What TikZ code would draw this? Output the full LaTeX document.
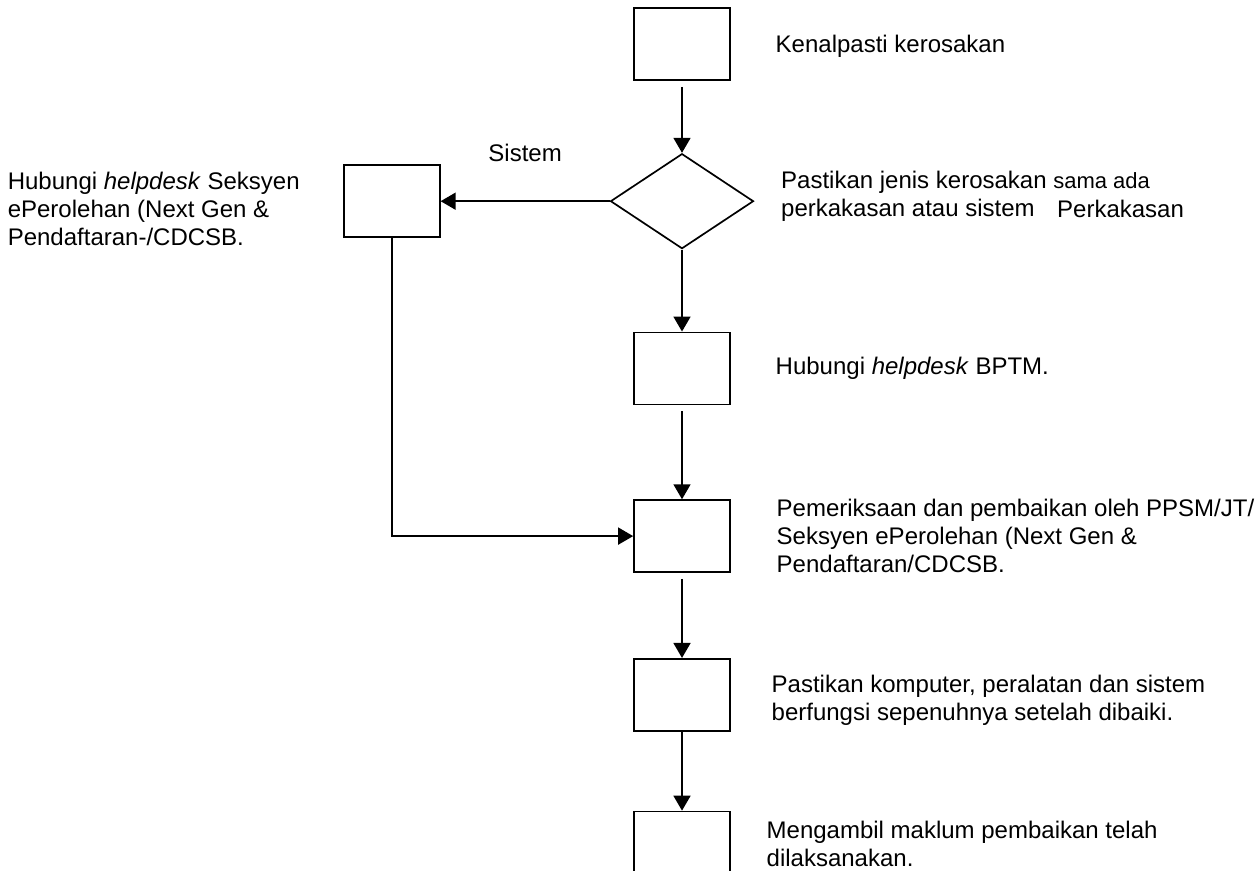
\documentclass[tikz,border=0pt]{standalone}
\usepackage{fontspec}
\setmainfont{Liberation Sans}
\usetikzlibrary{arrows.meta,positioning,shapes.geometric}
\tikzset{every picture/.style={
  >={Triangle[length=7.5pt,width=8.5pt]}   % Solid triangle arrow tips.
  }
}

\begin{document}
\begin{tikzpicture}[
    font=\fontsize{12}{14}\selectfont,
    line width=0.85pt,
    step box/.style={           % Boxes denoting the steps.
      rectangle,
      draw,
      minimum width=48pt,
      minimum height=36pt,
      inner sep=0pt
    },
    decision/.style={           % Box denoting the choice.
      diamond,
      draw,
      minimum width=71.5pt,
      minimum height=47.5pt,
      inner sep=0pt
    },
    lbl/.style={                % Styling of label text.
      align=left,
      inner sep=0pt
    },
    flow/.style={               % Connectors between the steps.
      ->,
      shorten <=3pt
    }]

    \useasboundingbox (0,0) rectangle (629pt,-435.5pt);
    \clip (0,0) rectangle (629pt,-435.5pt);

    % Depict the steps of the procedure.
    \node[step box] (kenal) at (341pt,-22pt) {};
    \node[decision] (jenis) [below=36pt of kenal] {};
    \node[step box] (bptm) [below=41pt of jenis] {};
    \node[step box] (periksa) [below=47pt of bptm] {};
    \node[step box] (pastikan) [below=42.5pt of periksa] {};
    \node[step box] (maklum) [below=39.5pt of pastikan] {};
    \node[step box] (sistem) [left=84.5pt of jenis] {};

    % Label the steps.
    \node[lbl] (lkenal) [right=22pt of kenal,yshift=-1.3pt] {Kenalpasti kerosakan};
    \node[lbl] (ljenis) [right=13pt of jenis,yshift=2.5pt]
      {Pastikan jenis kerosakan {\fontsize{11}{14}\selectfont sama ada}\\
       perkakasan atau sistem};
    \node[lbl,anchor=west] (lperkakasan) at ([xshift=151pt,yshift=-4pt] jenis.east)
      {Perkakasan};
    \node[lbl,anchor=west] (lsistem) at ([xshift=-168pt,yshift=-4pt] sistem.west)
      {Hubungi \textit{helpdesk} Seksyen\\
       ePerolehan (Next Gen \&\\
       Pendaftaran-/CDCSB.};
    \node[lbl] (lbptm) [right=22pt of bptm] {Hubungi \textit{helpdesk} BPTM.};
    \node[lbl] (lperiksa) [right=22.5pt of periksa]
      {Pemeriksaan dan pembaikan oleh PPSM/JT/\\
       Seksyen ePerolehan (Next Gen \&\\
       Pendaftaran/CDCSB.};
    \node[lbl] (lpastikan) [right=20pt of pastikan,yshift=-2.6pt]
      {Pastikan komputer, peralatan dan sistem\\
       berfungsi sepenuhnya setelah dibaiki.};
    \node[lbl] (lmaklum) [right=17.5pt of maklum,yshift=1.6pt]
      {Mengambil maklum pembaikan telah\\
       dilaksanakan.};

    % Draw the flow between the steps.
    \draw[flow] (kenal) -- (jenis);
    \draw[->] (jenis) -- (sistem)
      node[lbl,midway,above=19.5pt] (lsis) {Sistem};
    \draw[->] (jenis) -- (bptm);
    \draw[flow] (bptm) -- (periksa);
    \draw[->] (sistem.south) |- (periksa.west);
    \draw[flow] (periksa) -- (pastikan);
    \draw[->] (pastikan) -- (maklum);
  \end{tikzpicture}
\end{document}
